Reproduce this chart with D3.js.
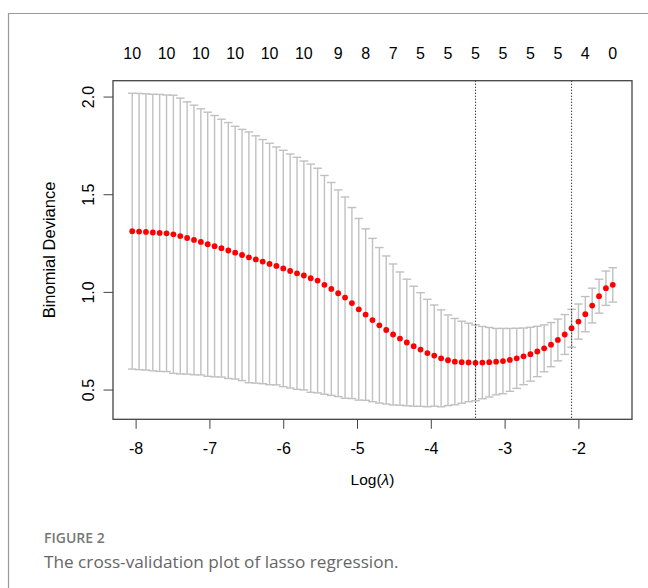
<!DOCTYPE html>
<html>
<head>
<meta charset="utf-8">
<script src="https://cdn.jsdelivr.net/npm/d3@7"></script>
<style>
  body { margin: 0; background: #fff; }
  #chart { width: 648px; height: 588px; }
  .axis text, .lab { font-family: "Liberation Sans", Arial, sans-serif; font-size: 16px; fill: #000; }
  .axis line { stroke: #444; }
  .caption-title { font-family: "Open Sans", sans-serif; font-size: 14px; font-weight: 600; fill: #777; }
  .caption-text { font-family: "Open Sans", sans-serif; font-size: 17.2px; fill: #666; }
</style>
</head>
<body>
<div id="chart"></div>
<script>
// cv.glmnet curve
const logLambda = [
  -8.046, -7.953, -7.860, -7.767, -7.674, -7.581, -7.488, -7.395, -7.302, -7.209,
  -7.116, -7.023, -6.930, -6.837, -6.744, -6.651, -6.558, -6.465, -6.371, -6.278,
  -6.185, -6.092, -5.999, -5.906, -5.813, -5.720, -5.627, -5.534, -5.441, -5.348,
  -5.255, -5.162, -5.069, -4.976, -4.883, -4.790, -4.697, -4.604, -4.511, -4.418,
  -4.325, -4.232, -4.139, -4.046, -3.953, -3.860, -3.767, -3.674, -3.581, -3.488,
  -3.394, -3.301, -3.208, -3.115, -3.022, -2.929, -2.836, -2.743, -2.650, -2.557,
  -2.464, -2.371, -2.278, -2.185, -2.092, -1.999, -1.906, -1.813, -1.720, -1.627,
  -1.534
];
const cvm = [
  1.311, 1.309, 1.307, 1.304, 1.302, 1.300, 1.295, 1.286, 1.276, 1.266,
  1.256, 1.244, 1.234, 1.224, 1.212, 1.201, 1.189, 1.177, 1.166, 1.155,
  1.143, 1.133, 1.120, 1.107, 1.095, 1.084, 1.070, 1.058, 1.036, 1.015,
  0.993, 0.971, 0.943, 0.911, 0.884, 0.856, 0.829, 0.805, 0.782, 0.761,
  0.741, 0.722, 0.705, 0.687, 0.674, 0.660, 0.650, 0.643, 0.640, 0.639,
  0.637, 0.638, 0.640, 0.643, 0.646, 0.652, 0.660, 0.670, 0.681, 0.695,
  0.711, 0.730, 0.754, 0.782, 0.814, 0.848, 0.886, 0.930, 0.978, 1.019,
  1.036
];
const cvsd = [
  0.706, 0.707, 0.707, 0.708, 0.709, 0.708, 0.712, 0.706, 0.697, 0.690,
  0.681, 0.676, 0.669, 0.660, 0.655, 0.647, 0.643, 0.642, 0.633, 0.625,
  0.618, 0.609, 0.605, 0.599, 0.594, 0.586, 0.584, 0.575, 0.560, 0.545,
  0.529, 0.515, 0.489, 0.465, 0.439, 0.418, 0.398, 0.379, 0.361, 0.341,
  0.324, 0.307, 0.291, 0.275, 0.259, 0.248, 0.232, 0.221, 0.210, 0.201,
  0.194, 0.185, 0.178, 0.170, 0.167, 0.161, 0.154, 0.145, 0.138, 0.129,
  0.120, 0.113, 0.107, 0.102, 0.097, 0.090, 0.090, 0.089, 0.087, 0.088,
  0.088
];

// number of nonzero coefficients shown on top
const nzeroLabels = ["10", "10", "10", "10", "10", "10", "9", "8", "7", "5", "5", "5", "5", "5", "5", "4", "0"];
const nzeroAt = [-8.046, -7.581, -7.116, -6.651, -6.185, -5.720, -5.255, -4.883, -4.511, -4.139,
                 -3.767, -3.394, -3.022, -2.650, -2.278, -1.906, -1.534];

const xTicks = [-8, -7, -6, -5, -4, -3, -2];
const yTicks = [0.5, 1.0, 1.5, 2.0];
const lambdaLines = [-3.394, -2.092]; // lambda.min, lambda.1se

const width = 648, height = 588;
const margin = { top: 80.7, right: 16, bottom: 168.7, left: 113 };
const innerWidth = width - margin.left - margin.right;
const innerHeight = height - margin.top - margin.bottom;

const data = logLambda.map((l, i) => ({ l, m: cvm[i], up: cvm[i] + cvsd[i], lo: cvm[i] - cvsd[i] }));

const svg = d3.select("#chart").append("svg")
  .attr("width", width)
  .attr("height", height);

// card border of the figure page
svg.append("path")
  .attr("d", `M8.5,${height} V13.5 H${width}`)
  .attr("fill", "none")
  .attr("stroke", "#9a9a9a")
  .attr("stroke-width", 1.2);

const g = svg.append("g")
  .attr("transform", `translate(${margin.left},${margin.top})`);

// R style 4% padding on both axes
const xExt = d3.extent(logLambda);
const xPad = (xExt[1] - xExt[0]) * 0.04;
const xScale = d3.scaleLinear()
  .domain([xExt[0] - xPad, xExt[1] + xPad])
  .range([0, innerWidth]);

const yMin = d3.min(data, d => d.lo), yMax = d3.max(data, d => d.up);
const yPad = (yMax - yMin) * 0.04;
const yScale = d3.scaleLinear()
  .domain([yMin - yPad, yMax + yPad])
  .range([innerHeight, 0]);

// error bars
const capW = 4.3;
const bars = g.append("g")
  .attr("stroke", "#c0c0c0")
  .attr("stroke-width", 1.4);

bars.selectAll(".whisker")
  .data(data)
  .enter()
  .append("line")
  .attr("x1", d => xScale(d.l))
  .attr("x2", d => xScale(d.l))
  .attr("y1", d => yScale(d.up))
  .attr("y2", d => yScale(d.lo));

bars.selectAll(".cap-up")
  .data(data)
  .enter()
  .append("line")
  .attr("x1", d => xScale(d.l) - capW)
  .attr("x2", d => xScale(d.l) + capW)
  .attr("y1", d => yScale(d.up))
  .attr("y2", d => yScale(d.up));

bars.selectAll(".cap-lo")
  .data(data)
  .enter()
  .append("line")
  .attr("x1", d => xScale(d.l) - capW)
  .attr("x2", d => xScale(d.l) + capW)
  .attr("y1", d => yScale(d.lo))
  .attr("y2", d => yScale(d.lo));

// mean points
g.selectAll(".pt")
  .data(data)
  .enter()
  .append("circle")
  .attr("cx", d => xScale(d.l))
  .attr("cy", d => yScale(d.m))
  .attr("r", 2.9)
  .attr("fill", "#ff0000");

// dotted lambda lines
g.selectAll(".vline")
  .data(lambdaLines)
  .enter()
  .append("line")
  .attr("x1", d => xScale(d))
  .attr("x2", d => xScale(d))
  .attr("y1", 0)
  .attr("y2", innerHeight)
  .attr("stroke", "#222")
  .attr("stroke-width", 1)
  .attr("stroke-dasharray", "1.2,1.8");

// box
g.append("rect")
  .attr("width", innerWidth)
  .attr("height", innerHeight)
  .attr("fill", "none")
  .attr("stroke", "#444")
  .attr("stroke-width", 1.3);

// bottom axis
const xAxis = g.append("g")
  .attr("class", "axis")
  .attr("transform", `translate(0,${innerHeight})`)
  .call(d3.axisBottom(xScale)
    .tickValues(xTicks)
    .tickSize(9.5)
    .tickPadding(13.5)
    .tickFormat(d => String(d)));
xAxis.select(".domain").remove();

// left axis, rotated labels
const yAxis = g.append("g")
  .attr("class", "axis")
  .call(d3.axisLeft(yScale)
    .tickValues(yTicks)
    .tickSize(9.5)
    .tickFormat(d3.format(".1f")));
yAxis.select(".domain").remove();
yAxis.selectAll("text")
  .attr("x", 0)
  .attr("dy", 0)
  .attr("text-anchor", "middle")
  .attr("transform", "translate(-19.5,0) rotate(-90)");

// top labels: number of nonzero coefficients
g.selectAll(".nzero")
  .data(nzeroAt)
  .enter()
  .append("text")
  .attr("class", "lab")
  .attr("x", d => xScale(d))
  .attr("y", -21.5)
  .attr("text-anchor", "middle")
  .text((d, i) => nzeroLabels[i]);

// axis titles
svg.append("text")
  .attr("class", "lab")
  .attr("transform", `translate(55,${margin.top + innerHeight / 2}) rotate(-90)`)
  .attr("text-anchor", "middle")
  .style("font-size", "16.5px")
  .text("Binomial Deviance");

const xTitle = svg.append("text")
  .attr("class", "lab")
  .attr("x", margin.left + innerWidth / 2)
  .attr("y", 485)
  .attr("text-anchor", "middle")
  .style("font-size", "15.5px");
xTitle.append("tspan").text("Log(");
xTitle.append("tspan").style("font-style", "italic").text("λ");
xTitle.append("tspan").text(")");

// figure caption
svg.append("text")
  .attr("class", "caption-title")
  .attr("x", 44)
  .attr("y", 543)
  .text("FIGURE 2");

svg.append("text")
  .attr("class", "caption-text")
  .attr("x", 44)
  .attr("y", 568)
  .text("The cross-validation plot of lasso regression.");
</script>
</body>
</html>
